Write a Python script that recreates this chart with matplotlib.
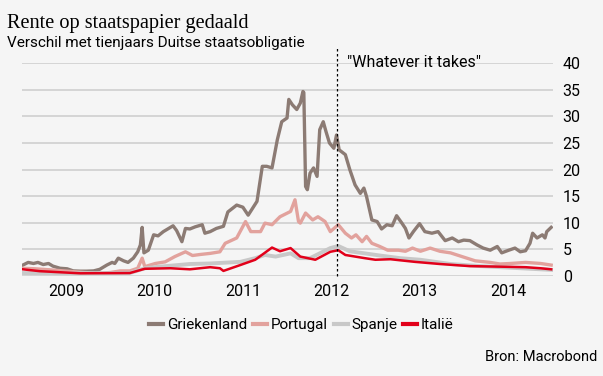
import numpy as np
import matplotlib.pyplot as plt

# tijd in fractie-jaren, waarden = spread t.o.v. Duitse 10-jaars (procentpunt)
t_gr = [2009.01, 2009.07, 2009.13, 2009.18, 2009.24, 2009.30, 2009.35, 2009.43, 2009.51,
        2009.58, 2009.66, 2009.73, 2009.81, 2009.88, 2009.96, 2010.02, 2010.05, 2010.09,
        2010.15, 2010.20, 2010.26, 2010.31, 2010.34, 2010.36, 2010.38, 2010.43, 2010.49,
        2010.54, 2010.60, 2010.66, 2010.71, 2010.75, 2010.81, 2010.85, 2010.90, 2010.96,
        2011.04, 2011.07, 2011.13, 2011.20, 2011.28, 2011.33, 2011.43, 2011.50, 2011.56,
        2011.66, 2011.72, 2011.77, 2011.83, 2011.89, 2011.94, 2012.00, 2012.02, 2012.06,
        2012.11, 2012.15, 2012.18, 2012.19, 2012.21, 2012.23, 2012.26, 2012.30, 2012.34,
        2012.37, 2012.41, 2012.44, 2012.48, 2012.53, 2012.56, 2012.59, 2012.66, 2012.71,
        2012.77, 2012.83, 2012.87, 2012.90, 2012.96, 2013.02, 2013.07, 2013.13, 2013.19,
        2013.24, 2013.30, 2013.34, 2013.38, 2013.43, 2013.50, 2013.56, 2013.64, 2013.71,
        2013.79, 2013.87, 2013.94, 2014.00, 2014.07, 2014.15, 2014.22, 2014.30, 2014.38,
        2014.43, 2014.51, 2014.58, 2014.64, 2014.70, 2014.75, 2014.78, 2014.83, 2014.89,
        2014.92, 2014.94, 2014.99]
griekenland = [2.0, 2.5, 2.3, 2.5, 2.1, 2.3, 1.8, 1.4, 1.3,
               0.9, 0.85, 0.85, 0.9, 1.2, 2.0, 2.5, 2.3, 3.3,
               2.8, 2.5, 3.3, 4.5, 5.8, 9.1, 4.3, 4.8, 7.7,
               7.5, 8.3, 8.9, 9.4, 8.5, 6.4, 8.9, 8.8, 9.2,
               9.6, 8.0, 8.3, 8.9, 9.3, 12.0, 13.3, 12.9, 11.4,
               14.0, 20.6, 20.6, 20.3, 25.6, 29.0, 29.7, 33.2, 32.2,
               31.3, 32.5, 34.7, 34.5, 16.8, 16.2, 19.3, 20.3, 18.7,
               27.5, 29.0, 27.2, 25.0, 24.0, 26.5, 23.7, 22.8, 20.0,
               17.1, 15.5, 16.5, 14.9, 10.5, 10.2, 8.8, 9.6, 9.4,
               11.3, 9.9, 8.9, 7.1, 8.3, 9.8, 8.3, 8.0, 8.3,
               6.6, 7.1, 6.4, 6.7, 6.6, 5.8, 5.2, 4.8, 5.5,
               4.3, 4.8, 5.2, 4.5, 4.7, 6.1, 8.0, 7.1, 7.7,
               7.1, 8.3, 9.1]

t_pt = [2009.01, 2009.15, 2009.32, 2009.51, 2009.71, 2009.88, 2010.00, 2010.11, 2010.22,
        2010.31, 2010.36, 2010.39, 2010.51, 2010.62, 2010.73, 2010.85, 2010.93, 2011.02,
        2011.13, 2011.24, 2011.30, 2011.43, 2011.53, 2011.59, 2011.70, 2011.75, 2011.83,
        2011.92, 2012.04, 2012.09, 2012.13, 2012.15, 2012.21, 2012.29, 2012.35, 2012.43,
        2012.49, 2012.58, 2012.66, 2012.73, 2012.78, 2012.85, 2012.90, 2012.96, 2013.05,
        2013.14, 2013.26, 2013.34, 2013.42, 2013.51, 2013.62, 2013.73, 2013.85, 2013.98,
        2014.13, 2014.30, 2014.41, 2014.53, 2014.70, 2014.87, 2014.99]
portugal = [1.4, 1.3, 1.1, 0.85, 0.6, 0.45, 0.6, 0.9, 0.9,
            1.4, 3.3, 1.7, 2.3, 2.6, 3.6, 4.5, 3.8, 4.0,
            4.2, 4.5, 6.1, 7.1, 10.2, 8.3, 8.3, 9.9, 9.6,
            11.1, 12.1, 14.3, 10.2, 9.9, 11.8, 10.5, 11.1, 10.2,
            8.3, 9.6, 8.0, 7.1, 7.7, 6.4, 7.4, 6.1, 5.5,
            4.8, 4.8, 4.6, 5.2, 4.6, 5.2, 4.6, 4.3, 3.6,
            2.8, 2.5, 2.2, 2.3, 2.5, 2.3, 2.0]

t_es = [2009.01, 2009.51, 2010.22, 2010.39, 2010.56, 2010.90, 2011.13, 2011.47, 2011.64,
        2011.75, 2011.87, 2012.04, 2012.13, 2012.26, 2012.49, 2012.58, 2012.71, 2012.88,
        2013.05, 2013.28, 2013.51, 2013.85, 2014.19, 2014.53, 2014.87, 2014.99]
spanje = [0.5, 0.45, 0.5, 1.4, 1.7, 2.2, 2.3, 2.6, 3.3,
          3.9, 3.6, 4.2, 3.3, 3.3, 5.2, 5.6, 4.6, 4.2,
          3.8, 3.3, 3.0, 2.2, 1.8, 1.5, 1.2, 1.1]

t_it = [2009.01, 2009.20, 2009.66, 2010.22, 2010.39, 2010.68, 2010.90, 2011.13, 2011.24,
        2011.28, 2011.47, 2011.64, 2011.83, 2011.92, 2012.04, 2012.15, 2012.32, 2012.49,
        2012.58, 2012.66, 2012.77, 2012.88, 2013.00, 2013.17, 2013.28, 2013.45, 2013.73,
        2014.07, 2014.41, 2014.70, 2014.87, 2014.99]
italie = [1.2, 0.85, 0.45, 0.5, 1.3, 1.4, 1.2, 1.6, 1.4,
          0.9, 2.0, 3.0, 5.3, 4.6, 5.2, 3.6, 3.0, 4.5,
          4.8, 3.9, 3.6, 3.3, 3.0, 3.1, 2.9, 2.6, 2.2,
          1.8, 1.7, 1.6, 1.4, 1.2]

jaren = [2009, 2010, 2011, 2012, 2013, 2014]
whatever = 2012.57

bg = "#f5f5f5"
kleuren = {"Griekenland": "#8c7b74", "Portugal": "#e2a29d", "Spanje": "#c8c8c8", "Italië": "#e2001a"}

plt.rcParams['font.family'] = ['Roboto', 'DejaVu Sans']

fig = plt.figure(figsize=(6.03, 3.76), dpi=100, facecolor=bg)
ax = fig.add_axes([0.0365, 0.2668, 0.8805, 0.5648], facecolor=bg)

for y in range(0, 45, 5):
    ax.axhline(y, color="#d2d2d2", lw=1.3, zorder=0)

ax.plot(t_gr, griekenland, color=kleuren["Griekenland"], lw=2.4, label="Griekenland")
ax.plot(t_pt, portugal, color=kleuren["Portugal"], lw=2.4, label="Portugal")
ax.plot(t_es, spanje, color=kleuren["Spanje"], lw=2.8, label="Spanje")
ax.plot(t_it, italie, color=kleuren["Italië"], lw=1.8, label="Italië")

ax.plot([whatever, whatever], [0, 43], color="black", lw=0.9, ls=(0, (2, 2)), clip_on=False, zorder=5)
ax.text(whatever + 0.11, 40.2, '"Whatever it takes"', fontsize=11.5, va="center", ha="left")

ax.set_xlim(2009.0, 2015.01)
ax.set_ylim(0, 40)
ax.set_xticks([j + 0.5 for j in jaren])
ax.set_xticklabels([str(j) for j in jaren])
ax.set_yticks(range(0, 45, 5))
ax.yaxis.tick_right()
ax.tick_params(axis="both", length=0, labelsize=11.5)
ax.tick_params(axis="y", pad=7)
ax.tick_params(axis="x", pad=6)
for s in ax.spines.values():
    s.set_visible(False)

leg = fig.legend(loc="center", bbox_to_anchor=(0.5, 0.135), ncol=4, frameon=False,
                 fontsize=11, handlelength=0.9, handletextpad=0.25, columnspacing=0.4)
for l in leg.get_lines():
    l.set_linewidth(3)

fig.text(0.012, 0.937, "Rente op staatspapier gedaald", fontsize=14.6,
         family="Liberation Serif", va="center")
fig.text(0.012, 0.885, "Verschil met tienjaars Duitse staatsobligatie", fontsize=11, va="center")
fig.text(0.99, 0.05, "Bron: Macrobond", fontsize=10.5, ha="right", va="center")

fig.savefig("out.png", dpi=100, facecolor=bg)
